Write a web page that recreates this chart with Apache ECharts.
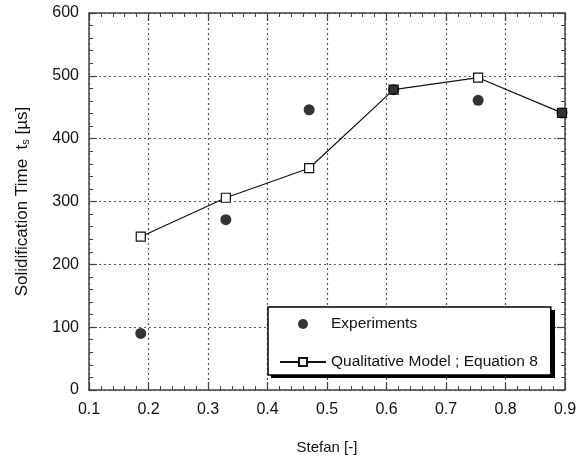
<!DOCTYPE html>
<html>
<head>
<meta charset="utf-8">
<script src="https://cdn.jsdelivr.net/npm/echarts@6/dist/echarts.min.js"></script>
<style>
  html, body { margin: 0; padding: 0; background: #fff; }
  #chart { width: 588px; height: 460px; }
</style>
</head>
<body>
<div id="chart"></div>
<script>
// Stefan number (x) and solidification time in microseconds (y)
var expStefan = [0.187, 0.33, 0.47, 0.612, 0.754, 0.895];
var expTime = [90, 271, 446, 478, 461, 441];
var modelStefan = [0.187, 0.33, 0.47, 0.612, 0.754, 0.895];
var modelTime = [244, 306, 353, 478, 497, 441];
var xTicks = [0.1, 0.2, 0.3, 0.4, 0.5, 0.6, 0.7, 0.8, 0.9];
var yTicks = [0, 100, 200, 300, 400, 500, 600];

function pairs(xs, ys) {
  return xs.map(function (x, i) { return [x, ys[i]]; });
}

var axisCol = '#444';
var font = 'Liberation Sans, Arial, sans-serif';

function frameAxis(pos, isX, showLabel, showGrid) {
  var ticks = isX ? xTicks : yTicks;
  return {
    type: 'value',
    position: pos,
    min: ticks[0],
    max: ticks[ticks.length - 1],
    interval: ticks[1] - ticks[0],
    axisLine: { show: true, onZero: false, lineStyle: { color: axisCol, width: 1.5 } },
    axisTick: { show: true, inside: true, length: 8, lineStyle: { color: axisCol, width: 1.2 } },
    minorTick: { show: true, splitNumber: 5, length: 4, lineStyle: { color: axisCol, width: 1 } },
    axisLabel: {
      show: showLabel,
      color: '#111',
      fontFamily: font,
      fontSize: 16,
      margin: isX ? 12 : 10,
      formatter: function (v) { return isX ? v.toFixed(1) : String(v); }
    },
    splitLine: {
      show: showGrid,
      lineStyle: { color: '#555', width: 1.2, type: [2, 3] }
    },
    minorSplitLine: { show: false }
  };
}

var chart = echarts.init(document.getElementById('chart'));

var xMain = frameAxis('bottom', true, true, true);
xMain.name = 'Stefan [-]';
xMain.nameLocation = 'middle';
xMain.nameGap = 50;
xMain.nameTextStyle = { color: '#111', fontFamily: font, fontSize: 15 };

var yMain = frameAxis('left', false, true, true);
yMain.name = 'Solidification Time  t{sub|s} [µs]';
yMain.nameLocation = 'middle';
yMain.nameGap = 58;
yMain.nameRotate = 90;
yMain.nameTextStyle = {
  color: '#111', fontFamily: font, fontSize: 17,
  rich: { sub: { fontSize: 11, verticalAlign: 'bottom', padding: [6, 0, 0, 0], fontFamily: font, color: '#111' } }
};

var option = {
  animation: false,
  backgroundColor: '#fff',
  grid: { left: 89, right: 23, top: 13, bottom: 69, containLabel: false },
  xAxis: [xMain, frameAxis('top', true, false, false)],
  yAxis: [yMain, frameAxis('right', false, false, false)],
  // drop shadow behind the legend box
  graphic: [{
    type: 'rect',
    z: 4,
    shape: { x: 271, y: 310, width: 284, height: 68 },
    style: { fill: '#000' }
  }],
  legend: {
    orient: 'vertical',
    left: 268,
    top: 307,
    z: 6,
    padding: [9, 13, 5, 11],
    itemGap: 22,
    itemWidth: 46,
    itemHeight: 10,
    backgroundColor: '#fff',
    borderColor: '#000',
    borderWidth: 1.5,
    borderRadius: 0,
    textStyle: { color: '#111', fontFamily: font, fontSize: 15.5, lineHeight: 16 },
    data: ['Experiments', 'Qualitative Model ; Equation 8']
  },
  series: [
    {
      name: 'Qualitative Model ; Equation 8',
      type: 'line',
      data: pairs(modelStefan, modelTime),
      symbol: 'rect',
      symbolSize: 9,
      showSymbol: true,
      lineStyle: { color: '#111', width: 1.2 },
      itemStyle: { color: '#fff', borderColor: '#111', borderWidth: 1.2 }
    },
    {
      name: 'Experiments',
      type: 'scatter',
      z: 3,
      data: pairs(expStefan, expTime),
      symbol: 'circle',
      symbolSize: 11,
      itemStyle: { color: '#000' }
    }
  ]
};

chart.setOption(option);
</script>
</body>
</html>
